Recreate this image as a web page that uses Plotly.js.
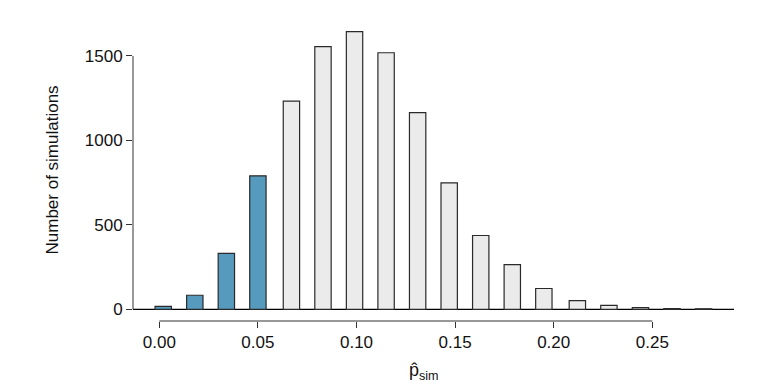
<!DOCTYPE html>
<html>
<head>
<meta charset="utf-8">
<script src="https://cdn.plot.ly/plotly-3.0.1.min.js"></script>
<style>html,body{margin:0;padding:0;background:#fff;}#chart{width:774px;height:392px;}</style>
</head>
<body>
<div id="chart"></div>
<script>
// simulated p-hat values (bar centres) and counts
var pHat = [0.002, 0.018, 0.034, 0.050, 0.067, 0.083, 0.099, 0.115, 0.131,
            0.147, 0.163, 0.179, 0.195, 0.212, 0.228, 0.244, 0.260, 0.276];
var counts = [17, 83, 331, 790, 1233, 1555, 1644, 1519, 1164,
              749, 437, 264, 123, 51, 23, 10, 4, 3];
var xTicks = [0, 0.05, 0.10, 0.15, 0.20, 0.25];
var xTickLabels = ["0.00", "0.05", "0.10", "0.15", "0.20", "0.25"];
var yTicks = [0, 500, 1000, 1500];
var yTickLabels = ["0", "500", "1000", "1500"];
var tailCutoff = 0.05;

var BLUE = '#569BBD', GRAY = '#EBEBEB';
var colors = pHat.map(function (v) { return v <= tailCutoff + 1e-9 ? BLUE : GRAY; });

var FONT = 'Liberation Sans, Arial, Helvetica, sans-serif';

var trace = {
  type: 'bar',
  x: pHat,
  y: counts,
  width: 0.0083,
  marker: { color: colors, line: { color: '#2a2a2a', width: 1.2 } },
  hoverinfo: 'x+y'
};

var layout = {
  width: 774, height: 392,
  margin: { l: 133, r: 40, t: 20, b: 71.3, pad: 0 },
  paper_bgcolor: '#fff', plot_bgcolor: '#fff',
  showlegend: false,
  bargap: 0,
  font: { family: FONT, size: 17, color: '#111' },
  xaxis: {
    range: [-0.01334, 0.29143],
    tickvals: xTicks, ticktext: xTickLabels,
    ticks: 'outside', ticklen: 6, tickwidth: 1, tickcolor: '#333',
    showgrid: false, zeroline: false, showline: false,
    tickfont: { family: FONT, size: 17, color: '#111' }
  },
  yaxis: {
    range: [-69.4, 1713],
    tickvals: yTicks, ticktext: yTickLabels,
    ticks: 'outside', ticklen: 6, tickwidth: 1, tickcolor: '#333',
    showgrid: false, zeroline: false, showline: false,
    tickfont: { family: FONT, size: 17, color: '#111' }
  },
  shapes: [
    { type: 'line', xref: 'paper', yref: 'y', x0: 0, x1: 1, y0: 0, y1: 0,
      line: { color: '#000', width: 1.2 }, layer: 'below' },
    { type: 'line', xref: 'x', yref: 'paper', x0: xTicks[0], x1: xTicks[xTicks.length - 1], y0: 0, y1: 0,
      line: { color: '#333', width: 1 } },
    { type: 'line', xref: 'paper', yref: 'y', x0: 0, x1: 0, y0: yTicks[0], y1: yTicks[yTicks.length - 1],
      line: { color: '#333', width: 1 } }
  ],
  annotations: [
    { text: 'Number of simulations', xref: 'paper', yref: 'paper',
      x: (52 - 133) / 601, y: 0.5, xanchor: 'center', yanchor: 'middle',
      textangle: -90, showarrow: false, font: { family: FONT, size: 17, color: '#111' } },
    { text: 'p\u0302<sub>sim</sub>', xref: 'paper', yref: 'paper',
      x: (424 - 133) / 601, y: -(371 - 320.7) / 300.7, xanchor: 'center', yanchor: 'middle',
      showarrow: false, font: { family: FONT, size: 18, color: '#111' } }
  ]
};

Plotly.newPlot('chart', [trace], layout, { displayModeBar: false, staticPlot: true });
</script>
</body>
</html>
